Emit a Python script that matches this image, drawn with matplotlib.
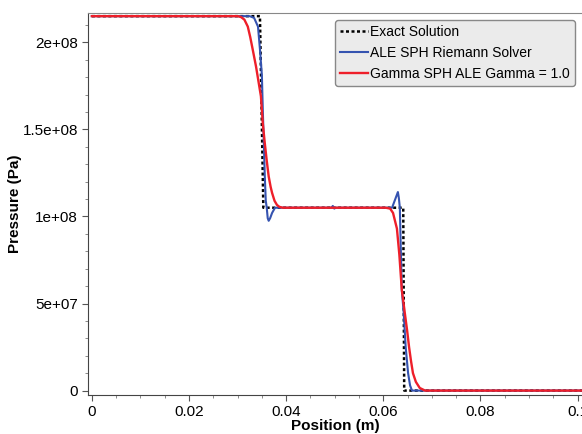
import matplotlib.pyplot as plt
from matplotlib.ticker import MultipleLocator

# Datos (posicion en m, presion en Pa)
x_exacta = [0.0, 0.0346, 0.0353, 0.0641, 0.0643, 0.101]
p_exacta = [2.15e8, 2.15e8, 1.05e8, 1.05e8, 0.0, 0.0]

x_riemann = [0.0, 0.0325, 0.0334, 0.0342, 0.0346, 0.0350, 0.0352, 0.0354, 0.0356,
             0.0358, 0.0360, 0.0362, 0.0364, 0.0367, 0.0371, 0.0377, 0.0493, 0.0496,
             0.0499, 0.0502, 0.0618, 0.0624, 0.0630, 0.0632, 0.0634, 0.0636, 0.0638,
             0.0642, 0.0646, 0.0651, 0.0655, 0.0659, 0.101]
p_riemann = [2.15e8, 2.15e8, 2.14e8, 2.09e8, 1.96e8, 1.81e8, 1.60e8, 1.42e8, 1.23e8,
             1.09e8, 1.05e8, 0.99e8, 0.975e8, 0.99e8, 1.02e8, 1.05e8, 1.05e8, 1.06e8,
             1.045e8, 1.05e8, 1.05e8, 1.095e8, 1.14e8, 1.105e8, 1.05e8, 0.81e8, 0.58e8,
             0.445e8, 0.25e8, 0.10e8, 0.03e8, 0.0, 0.0]

x_gamma = [0.0, 0.0300, 0.0307, 0.0314, 0.0321, 0.0326, 0.0331, 0.0338, 0.0348,
           0.0352, 0.0356, 0.0360, 0.0364, 0.0368, 0.0371, 0.0376, 0.0381, 0.0386,
           0.0393, 0.0605, 0.0614, 0.0620, 0.0628, 0.0633, 0.0638, 0.0644, 0.0649,
           0.0653, 0.0657, 0.0661, 0.0667, 0.0675, 0.0686, 0.101]
p_gamma = [2.15e8, 2.15e8, 2.145e8, 2.13e8, 2.09e8, 2.03e8, 1.96e8, 1.86e8, 1.69e8,
           1.53e8, 1.42e8, 1.32e8, 1.23e8, 1.17e8, 1.135e8, 1.09e8, 1.066e8, 1.055e8,
           1.05e8, 1.05e8, 1.045e8, 1.02e8, 0.93e8, 0.78e8, 0.58e8, 0.45e8, 0.345e8,
           0.25e8, 0.17e8, 0.10e8, 0.05e8, 0.015e8, 0.0, 0.0]

xticks = [0, 0.02, 0.04, 0.06, 0.08, 0.1]
xtick_labels = ['0', '0.02', '0.04', '0.06', '0.08', '0.1']
yticks = [0, 5e7, 1e8, 1.5e8, 2e8]
ytick_labels = ['0', '5e+07', '1e+08', '1.5e+08', '2e+08']

plt.rcParams['font.family'] = ['Liberation Sans', 'DejaVu Sans']

fig = plt.figure(figsize=(5.82, 4.34), dpi=100)
ax = fig.add_axes([0.151, 0.09, 0.849, 0.88])

# Curvas
ax.plot(x_exacta, p_exacta, color='black', linestyle=(0, (1.2, 1.0)), linewidth=1.8,
        label='Exact Solution', zorder=2)
ax.plot(x_riemann, p_riemann, color='#3553b0', linewidth=1.5,
        label='ALE SPH Riemann Solver', zorder=3)
ax.plot(x_gamma, p_gamma, color='#ee1f2a', linewidth=1.7,
        label='Gamma SPH ALE Gamma = 1.0', zorder=4)

ax.set_xlim(-0.00082, 0.1009)
ax.set_ylim(-2.5e6, 2.168e8)

ax.set_xticks(xticks)
ax.set_xticklabels(xtick_labels)
ax.set_yticks(yticks)
ax.set_yticklabels(ytick_labels)
ax.xaxis.set_minor_locator(MultipleLocator(0.005))
ax.yaxis.set_minor_locator(MultipleLocator(1e7))

ax.tick_params(which='major', length=4, color='#555555', labelsize=11, pad=3)
ax.tick_params(which='minor', length=2.5, color='#777777')

ax.spines['right'].set_visible(False)
ax.spines['top'].set_color('#888888')
ax.spines['left'].set_color('#444444')
ax.spines['bottom'].set_color('#444444')

ax.set_xlabel('Position (m)', fontsize=11, fontweight='bold')
ax.set_ylabel('Pressure (Pa)', fontsize=11, fontweight='bold')
ax.xaxis.set_label_coords(0.5, -0.062)
ax.yaxis.set_label_coords(-0.134, 0.5)

leg = ax.legend(loc='upper right', fontsize=10, handlelength=2.0, handletextpad=0.2,
                borderpad=0.35, labelspacing=0.5, borderaxespad=0.5, fancybox=True,
                framealpha=1.0)
leg.get_frame().set_facecolor('#ebebeb')
leg.get_frame().set_edgecolor('#888888')

fig.savefig('out.png', dpi=100)
